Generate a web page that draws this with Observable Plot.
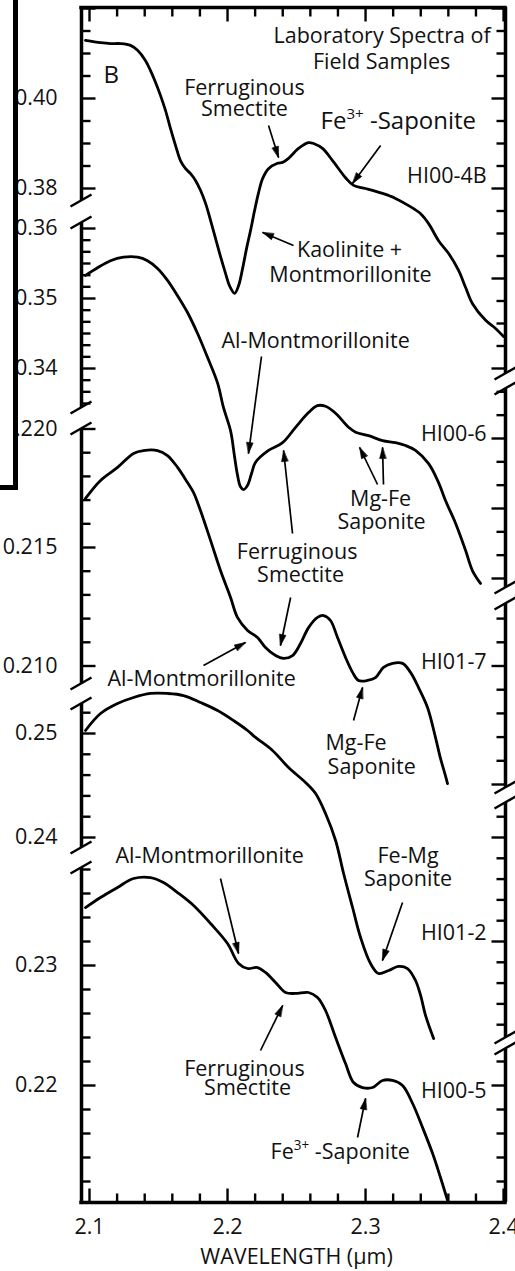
<!DOCTYPE html>
<html><head><meta charset="utf-8">
<script src="https://cdn.jsdelivr.net/npm/d3@7"></script>
<script src="https://cdn.jsdelivr.net/npm/@observablehq/plot@0.6"></script>
<style>
html,body{margin:0;padding:0;background:#fff;}
#chart svg{display:block;}
</style>
</head><body><div id="chart"></div>
<script>
// ---------------- DATA ----------------
const specNames = ["HI00-4B", "HI00-6", "HI01-7", "HI01-2", "HI00-5"];

const wl_HI00_4B = [2.0971,2.1080,2.1152,2.1225,2.1297,2.1348,2.1406,2.1442,2.1478,2.1514,2.1551,2.1587,2.1623,2.1659,2.1696,2.1732,2.1768,2.1804,2.1841,2.1877,2.1913,2.1949,2.1986,2.2014,2.2051,2.2080,2.2109,2.2138,2.2167,2.2196,2.2225,2.2254,2.2297,2.2362,2.2399,2.2442,2.2514,2.2587,2.2623,2.2688,2.2761,2.2855,2.2913,2.3000,2.3123,2.3217,2.3312,2.3399,2.3457,2.3529,2.3601,2.3674,2.3725,2.3775,2.3870,2.3942,2.4000];
const r_HI00_4B  = [0.4129,0.4124,0.4122,0.4122,0.4118,0.4107,0.4084,0.4062,0.4036,0.4007,0.3973,0.3933,0.3896,0.3862,0.3844,0.3833,0.3818,0.3796,0.3767,0.3729,0.3689,0.3649,0.3611,0.3584,0.3567,0.3584,0.3622,0.3667,0.3707,0.3751,0.3791,0.3822,0.3844,0.3856,0.3858,0.3867,0.3889,0.3902,0.3900,0.3889,0.3862,0.3824,0.3807,0.3800,0.3789,0.3778,0.3762,0.3744,0.3722,0.3684,0.3656,0.3618,0.3580,0.3544,0.3507,0.3489,0.3471];

const wl_HI00_6 = [2.0971,2.1058,2.1152,2.1246,2.1348,2.1420,2.1493,2.1565,2.1638,2.1710,2.1783,2.1855,2.1928,2.1971,2.2022,2.2051,2.2072,2.2094,2.2116,2.2145,2.2174,2.2203,2.2297,2.2399,2.2493,2.2587,2.2652,2.2710,2.2783,2.2877,2.2928,2.3022,2.3123,2.3217,2.3290,2.3362,2.3457,2.3529,2.3580,2.3652,2.3725,2.3775,2.3833];
const r_HI00_6  = [0.3533,0.3544,0.3554,0.3559,0.3559,0.3554,0.3543,0.3526,0.3504,0.3480,0.3450,0.3416,0.3379,0.3344,0.3311,0.3274,0.3248,0.3231,0.3227,0.3233,0.3250,0.3266,0.3283,0.3294,0.3316,0.3337,0.3347,0.3346,0.3336,0.3316,0.3309,0.3304,0.3297,0.3294,0.3290,0.3283,0.3264,0.3237,0.3211,0.3179,0.3140,0.3111,0.3093];

const wl_HI01_7 = [2.0971,2.1080,2.1203,2.1319,2.1391,2.1493,2.1565,2.1638,2.1710,2.1754,2.1804,2.1877,2.1949,2.2022,2.2072,2.2145,2.2217,2.2275,2.2348,2.2406,2.2471,2.2529,2.2587,2.2652,2.2696,2.2746,2.2797,2.2855,2.2906,2.2949,2.3014,2.3072,2.3130,2.3196,2.3268,2.3326,2.3384,2.3449,2.3507,2.3543,2.3572,2.3594];
const r_HI01_7  = [0.21707,0.21783,0.21838,0.21897,0.21909,0.21909,0.21888,0.21838,0.21774,0.21732,0.21656,0.21530,0.21403,0.21289,0.21205,0.21150,0.21120,0.21078,0.21044,0.21032,0.21044,0.21095,0.21162,0.21205,0.21213,0.21192,0.21120,0.21036,0.20973,0.20939,0.20939,0.20951,0.20994,0.21011,0.21011,0.20973,0.20909,0.20825,0.20698,0.20610,0.20551,0.20504];

const wl_HI01_2 = [2.0971,2.1080,2.1203,2.1319,2.1442,2.1565,2.1681,2.1804,2.1928,2.2043,2.2145,2.2203,2.2326,2.2442,2.2565,2.2638,2.2710,2.2783,2.2841,2.2906,2.2964,2.3036,2.3094,2.3167,2.3239,2.3304,2.3362,2.3399,2.3435,2.3493];
const r_HI01_2  = [0.25029,0.25192,0.25288,0.25346,0.25385,0.25385,0.25365,0.25298,0.25221,0.25125,0.25029,0.24962,0.24837,0.24673,0.24529,0.24423,0.24231,0.23971,0.23654,0.23327,0.23038,0.22788,0.22692,0.22721,0.22760,0.22740,0.22625,0.22481,0.22288,0.22067];

const wl_HI00_5 = [2.0971,2.1080,2.1203,2.1319,2.1442,2.1536,2.1638,2.1754,2.1877,2.2000,2.2080,2.2145,2.2217,2.2275,2.2348,2.2420,2.2493,2.2587,2.2652,2.2710,2.2783,2.2855,2.2913,2.2978,2.3051,2.3123,2.3196,2.3268,2.3341,2.3413,2.3486,2.3543,2.3594];
const r_HI00_5  = [0.23483,0.23567,0.23650,0.23725,0.23733,0.23692,0.23608,0.23500,0.23350,0.23183,0.23017,0.22975,0.22983,0.22942,0.22858,0.22775,0.22767,0.22775,0.22733,0.22625,0.22400,0.22183,0.22025,0.21983,0.21983,0.22042,0.22042,0.22000,0.21850,0.21650,0.21433,0.21233,0.21042];

// per-spectrum offset/scale of the stacked figure (reflectance -> stack units)
const specRefR   = [0.40, 0.35, 0.215, 0.25, 0.22];
const specRefPos = [98, 298, 547, 733, 1085];
const specGain   = [4500, 7000, 23700, 10400, 12000];

// broken axes: segment extents (stack units), tick steps (reflectance)
const leftSegStart  = [7, 222, 428, 703, 867];
const leftSegEnd    = [200, 407, 683, 847, 1202];
const rightSegStart = [7, 388, 603, 802, 1048];
const rightSegEnd   = [373, 587, 787, 1037, 1202];
const leftMinorStep  = [0.005, 0.01/6, 0.001, 0.002, 0.002];
const leftMajorStep  = [0.02, 0.01, 0.005, 0.01, 0.01];
const rightMinorStep = [0.005, 0.01/3, 0.001, 0.002, 0.002];
const rightMajorStep = [0.02, 0.01, 0.005, 0.01, 0.01];
const leftLabelValues = [[0.40, 0.38], [0.36, 0.35, 0.34], [0.220, 0.215, 0.210], [0.25, 0.24], [0.23, 0.22]];
const leftLabelText   = [["0.40", "0.38"], ["0.36", "0.35", "0.34"], ["0.220", "0.215", "0.210"], ["0.25", "0.24"], ["0.23", "0.22"]];

// x axis
const xTickLabels = ["2.1", "2.2", "2.3", "2.4"];
const xTickValues = [2.1, 2.2, 2.3, 2.4];
const xMinorStep = 0.02;

// sample name labels (stack units of baseline)
const nameLabelY = [182, 440, 668, 939, 1097];

// annotations
const annoText = ["Laboratory Spectra of","Field Samples","Ferruginous","Smectite","Kaolinite +","Montmorillonite","Al-Montmorillonite","Mg-Fe","Saponite","Ferruginous","Smectite","Al-Montmorillonite","Mg-Fe","Saponite","Fe-Mg","Saponite","Al-Montmorillonite","Ferruginous","Smectite"];
const annoX = [2.3120,2.3116,2.2123,2.2123,2.2884,2.2891,2.2638,2.3109,2.3116,2.2504,2.2529,2.1130,2.2710,2.2725,2.3308,2.3308,2.1188,2.2123,2.2145];
const annoY = [42,68,94,115,256,281,347,505,528,558,581,685,749,773,862,885,862,1075,1094];
const annoAnchor = ["middle","middle","middle","middle","middle","middle","middle","middle","middle","middle","middle","start","start","start","middle","middle","start","middle","middle"];
const feSapX = [2.2674, 2.2312];
const feSapY = [128, 1158];
const feSapSize = [24, 21.5];

// arrows (tail -> head)
const arrowX1 = [2.2297,2.3109,2.2478,2.2246,2.3087,2.3130,2.2471,2.2457,2.1826,2.2913,2.3268,2.1949,2.2239,2.2942];
const arrowY1 = [125,145,245,356,484,484,533,597,665,720,902,878,1050,1137];
const arrowX2 = [2.2370,2.2906,2.2254,2.2152,2.2957,2.3123,2.2406,2.2384,2.2130,2.2978,2.3123,2.2080,2.2399,2.3000];
const arrowY2 = [157,183,232,453,447,447,450,645,642,687,960,953,1005,1098];

// ---------------- LAYOUT ----------------
const W = 515, H = 1271;
const X0 = 2.0942, X1 = 2.4014;     // frame left/right in µm
const XR = [81, 505];
const XPX = (XR[1] - XR[0]) / (X1 - X0);
const YT = 7, YB = 1202;
const FS = 21.5;
const FONT = "'Open Sans', 'Noto Sans', sans-serif";

const toPos = (i, r) => specRefPos[i] + (specRefR[i] - r) * specGain[i];
const toR = (i, p) => specRefR[i] + (specRefPos[i] - p) / specGain[i];

function ticksFor(i, a, b, step, major) {
  const rHi = toR(i, a - 0.6), rLo = toR(i, b + 0.6);
  const out = [];
  for (let n = Math.ceil(rLo / step - 1e-9); n <= Math.floor(rHi / step + 1e-9); n++) {
    const v = n * step;
    out.push({y: toPos(i, v), major: Math.abs(v / major - Math.round(v / major)) < 1e-6});
  }
  return out;
}

const wls = [wl_HI00_4B, wl_HI00_6, wl_HI01_7, wl_HI01_2, wl_HI00_5];
const rs = [r_HI00_4B, r_HI00_6, r_HI01_7, r_HI01_2, r_HI00_5];
const curveRows = [];
specNames.forEach((name, i) => wls[i].forEach((w, j) => curveRows.push({name, x: w, y: toPos(i, rs[i][j])})));

const leftTicks = [], rightTicks = [], leftLabels = [];
specNames.forEach((_, i) => {
  leftTicks.push(...ticksFor(i, leftSegStart[i], leftSegEnd[i], leftMinorStep[i], leftMajorStep[i]));
  rightTicks.push(...ticksFor(i, rightSegStart[i], rightSegEnd[i], rightMinorStep[i], rightMajorStep[i]));
  leftLabelValues[i].forEach((v, k) => leftLabels.push({y: toPos(i, v), t: leftLabelText[i][k]}));
});
const xTicks = [];
for (let n = Math.ceil(X0 / xMinorStep); n <= Math.floor(X1 / xMinorStep + 1e-9); n++) xTicks.push({x: n * xMinorStep, major: n % 5 === 0});

const leftSegs = leftSegStart.map((a, i) => ({a, b: leftSegEnd[i]}));
const rightSegs = rightSegStart.map((a, i) => ({a, b: rightSegEnd[i]}));
const breaks = [];
for (let i = 0; i < 4; i++) {
  breaks.push({x: X0, y: leftSegEnd[i]}, {x: X0, y: leftSegStart[i + 1]});
  breaks.push({x: X1, y: rightSegEnd[i]}, {x: X1, y: rightSegStart[i + 1]});
}

const annos = annoText.map((t, i) => ({t, x: annoX[i], y: annoY[i], a: annoAnchor[i]}));
const nameLabels = specNames.map((t, i) => ({t, y: nameLabelY[i]}));
const arrows = arrowX1.map((x1, i) => ({x1, y1: arrowY1[i], x2: arrowX2[i], y2: arrowY2[i],
  rot: Math.atan2((arrowX2[i] - x1) * XPX, -(arrowY2[i] - arrowY1[i])) * 180 / Math.PI}));

const headShape = {draw(c, l, r) { c.moveTo(0, -l); c.lineTo(-r, 0); c.lineTo(r, 0); c.closePath(); }};

const MIN = 9, MAJ = 14, TW = 2.4;
const ink = "#111";

const chart = Plot.plot({
  width: W, height: H,
  marginLeft: XR[0], marginRight: W - XR[1], marginTop: YT, marginBottom: H - YB,
  style: {fontFamily: FONT, background: "#fff", color: "#000", overflow: "visible"},
  x: {domain: [X0, X1], range: XR, axis: null},
  y: {domain: [YT, YB], range: [YT, YB], axis: null},
  marks: [
    // spectra
    Plot.line(curveRows, {x: "x", y: "y", z: "name", curve: "catmull-rom", stroke: "#000", strokeWidth: 2.8}),
    // frame: top/bottom, broken left/right
    Plot.ruleY([YT, YB], {x1: X0, x2: X1, stroke: "#000", strokeWidth: 3.5, strokeLinecap: "square"}),
    Plot.ruleX(leftSegs, {x: X0, y1: "a", y2: "b", stroke: "#000", strokeWidth: 3.5}),
    Plot.ruleX(rightSegs, {x: X1, y1: "a", y2: "b", stroke: "#000", strokeWidth: 3.5}),
    Plot.link(breaks, {x1: d => d.x - 11 / XPX, y1: d => d.y + 6, x2: d => d.x + 10 / XPX, y2: d => d.y - 6, stroke: "#000", strokeWidth: 2.4}),
    // y ticks
    Plot.link(leftTicks, {x1: X0, x2: d => X0 + (d.major ? MAJ : MIN) / XPX, y1: "y", y2: "y", stroke: "#000", strokeWidth: TW}),
    Plot.link(rightTicks, {x1: X1, x2: d => X1 - (d.major ? MAJ : MIN) / XPX, y1: "y", y2: "y", stroke: "#000", strokeWidth: TW}),
    // x ticks bottom and top
    Plot.link(xTicks, {x1: "x", x2: "x", y1: YB, y2: d => YB - (d.major ? MAJ : MIN), stroke: "#000", strokeWidth: TW}),
    Plot.link(xTicks, {x1: "x", x2: "x", y1: YT, y2: d => YT + (d.major ? MAJ : MIN), stroke: "#000", strokeWidth: TW}),
    // tick labels
    Plot.text(leftLabels, {x: X0, y: "y", text: "t", dx: -24, textAnchor: "end", fontSize: FS, fill: ink}),
    Plot.text(xTickValues, {x: d => d, y: YB, text: (d, i) => xTickLabels[i], dy: 31, lineAnchor: "bottom", fontSize: FS, fill: ink}),
    Plot.text(["WAVELENGTH (µm)"], {x: 2.25, y: YB, dy: 61, lineAnchor: "bottom", fontSize: FS, fill: ink}),
    // panel letter
    Plot.text(["B"], {x: 2.1101, y: 82, textAnchor: "start", lineAnchor: "bottom", fontSize: 24, fill: ink}),
    // sample names
    Plot.text(nameLabels, {x: 2.3877, y: "y", text: "t", textAnchor: "end", lineAnchor: "bottom", fontSize: FS, fill: ink}),
    // annotations
    Plot.text(annos.filter(d => d.a === "middle"), {x: "x", y: "y", text: "t", textAnchor: "middle", lineAnchor: "bottom", fontSize: FS, fill: ink}),
    Plot.text(annos.filter(d => d.a === "start"), {x: "x", y: "y", text: "t", textAnchor: "start", lineAnchor: "bottom", fontSize: FS, fill: ink}),
    Plot.text(feSapX, {x: d => d, y: (d, i) => feSapY[i], text: () => "Fe3+ -Saponite", textAnchor: "start", lineAnchor: "bottom", fontSize: FS, fill: ink, className: "fe3"}),
    // arrows
    Plot.link(arrows, {x1: "x1", y1: "y1", x2: "x2", y2: "y2", stroke: "#000", strokeWidth: 1.7}),
    Plot.vector(arrows, {x: "x2", y: "y2", rotate: "rot", length: 11, r: 3.2, anchor: "end", shape: headShape, fill: "#000", stroke: "#000", strokeWidth: 0.6})
  ]
});

// superscript for Fe3+
d3.select(chart).selectAll("g.fe3 text").each(function (_, i) {
  const fs = feSapSize[i];
  const t = d3.select(this).attr("font-size", fs);
  t.text(null);
  t.append("tspan").text("Fe");
  t.append("tspan").attr("font-size", fs * 0.63).attr("dy", -fs * 0.4).text("3+");
  t.append("tspan").attr("font-size", fs).attr("dy", fs * 0.4).text(" -Saponite");
});

// cropped border of the neighbouring panel A (decoration): its white interior hides overflow
const deco = d3.select(chart).append("g");
deco.append("rect").attr("x", 0).attr("y", 0).attr("width", 14).attr("height", 486).attr("fill", "#fff");
deco.append("rect").attr("x", 13).attr("y", 0).attr("width", 5).attr("height", 490).attr("fill", "#000");
deco.append("rect").attr("x", 0).attr("y", 485).attr("width", 18).attr("height", 5).attr("fill", "#000");

document.getElementById("chart").appendChild(chart);
</script>
</body></html>
